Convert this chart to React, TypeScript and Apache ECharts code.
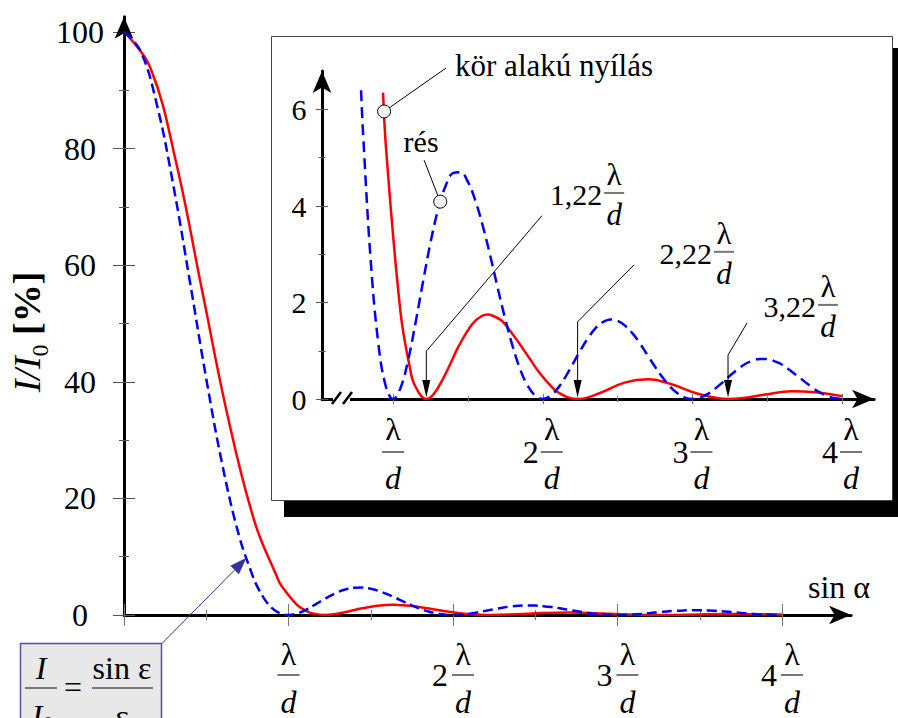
import React, { useEffect, useRef } from 'react';
import * as echarts from 'echarts';

const FONT = 'Liberation Serif, Times New Roman, serif';

// circular aperture (red): [sin α in units of λ/d, I/I0 in %]
const circlePoints: number[][] = [
  [0, 100], [0.159, 93.94], [0.318, 77.48], [0.477, 55.34], [0.637, 33.26], [0.796, 15.81],
  [0.933, 6.35], [0.955, 5.11], [1.05, 1.79], [1.114, 0.62], [1.146, 0.28], [1.222, 0],
  [1.273, 0.11], [1.337, 0.44], [1.401, 0.85], [1.432, 1.06], [1.528, 1.55], [1.592, 1.72],
  [1.635, 1.75], [1.655, 1.74], [1.719, 1.64], [1.751, 1.54], [1.846, 1.14], [1.91, 0.85],
  [1.974, 0.56], [2.069, 0.22], [2.101, 0.14], [2.164, 0.04], [2.233, 0], [2.387, 0.13],
  [2.546, 0.34], [2.706, 0.41], [2.865, 0.3], [3.024, 0.12], [3.183, 0.01], [3.238, 0],
  [3.342, 0.02], [3.501, 0.1], [3.661, 0.16], [3.82, 0.14], [3.979, 0.07], [4.0, 0.06],
];

// slit (blue dashed)
const slitPoints: number[][] = [
  [0, 100], [0.1, 96.75], [0.2, 87.52], [0.3, 73.68], [0.4, 57.29], [0.5, 40.53], [0.6, 25.46],
  [0.7, 13.53], [0.786, 6.4], [0.8, 5.47], [0.85, 2.89], [0.9, 1.19], [0.95, 0.28], [1.0, 0],
  [1.05, 0.23], [1.1, 0.8], [1.15, 1.58], [1.2, 2.43], [1.25, 3.24], [1.3, 3.92], [1.35, 4.41],
  [1.4, 4.68], [1.45, 4.7], [1.5, 4.5], [1.55, 4.11], [1.6, 3.58], [1.65, 2.96], [1.7, 2.29],
  [1.75, 1.65], [1.8, 1.08], [1.85, 0.61], [1.9, 0.27], [1.95, 0.07], [2.0, 0], [2.05, 0.06],
  [2.1, 0.22], [2.15, 0.45], [2.2, 0.72], [2.25, 1.0], [2.3, 1.25], [2.35, 1.46], [2.4, 1.59],
  [2.45, 1.65], [2.5, 1.62], [2.55, 1.52], [2.6, 1.36], [2.65, 1.15], [2.7, 0.91], [2.75, 0.67],
  [2.8, 0.45], [2.85, 0.26], [2.9, 0.12], [2.95, 0.03], [3.0, 0], [3.05, 0.03], [3.1, 0.1],
  [3.15, 0.21], [3.2, 0.34], [3.25, 0.48], [3.3, 0.61], [3.35, 0.72], [3.4, 0.79], [3.45, 0.83],
  [3.5, 0.83], [3.55, 0.78], [3.6, 0.71], [3.65, 0.6], [3.7, 0.48], [3.75, 0.36], [3.8, 0.24],
  [3.85, 0.14], [3.9, 0.06], [3.95, 0.02], [4.0, 0],
];

const insetCircleFrom = 0.933;
const insetSlitFrom = 0.786;
const markerPoints: number[][] = [[0.94, 5.96], [1.315, 4.09]];

const mainXTicks = [0, 1, 2, 3, 4];
const mainXMinor = [0.5, 1.5, 2.5, 3.5];
const mainXLabels = [1, 2, 3, 4];
const mainYTicks = [0, 20, 40, 60, 80, 100];
const mainYMinor = [10, 30, 50, 70, 90];
const insetXTicks = [1, 2, 3, 4];
const insetXMinor = [1.5, 2.5, 3.5];
const insetXLabels = [1, 2, 3, 4];
const insetYTicks = [0, 2, 4, 6];
const insetYMinor = [1, 3, 5];

// minima annotations in the inset (data coordinates)
const minimaNotes = [
  { x: 1.222, bendY: 0.99, from: [1.995, 3.8], coef: '1,22', bar: [2.477, 4.27] },
  { x: 2.233, bendY: 1.6, from: [2.61, 2.78], coef: '2,22', bar: [3.211, 3.05] },
  { x: 3.238, bendY: 0.91, from: [3.365, 1.575], coef: '3,22', bar: [3.906, 1.95] },
];
const circleNote = { text: 'kör alakú nyílás', lineEnd: [1.354, 6.86], textAt: [1.414, 6.92] };
const slitNote = { text: 'rés', lineEnd: [1.207, 4.95], textAt: [1.187, 5.33] };
const formulaTarget = [0.745, 9.8];

const M = { xMin: 0, xMax: 4.42, yMax: 102.6 };
const I = { xMin: 0.525, xMax: 4.214, yMax: 6.8 };

function fracFormatter(v: number) {
  const n = Math.round(v);
  if (n === 1) return '{l|λ}\n{b|}\n{d|d}';
  return '{s1|}{l|λ}\n{c|' + n + '}{b|}\n{s3|}{d|d}';
}
function fracRich(l1: number, l3: number, cw: number) {
  return {
    l: { fontFamily: FONT, fontSize: 32, lineHeight: l1, width: 22, align: 'center', color: '#000' },
    s1: { width: cw, lineHeight: l1 },
    b: { width: 22, height: 2, lineHeight: 4, backgroundColor: '#777' },
    c: { fontFamily: FONT, fontSize: 32, lineHeight: 4, width: cw, align: 'left', color: '#000' },
    s3: { width: cw, lineHeight: l3 },
    d: { fontFamily: FONT, fontSize: 32, fontStyle: 'italic', lineHeight: l3, width: 22, align: 'center', verticalAlign: 'bottom', color: '#000' },
  };
}

function tickAxis(dim: 'x' | 'y', gridIndex: number, min: number, max: number, values: number[], half: number, color: string) {
  return {
    type: 'value', gridIndex, min, max, position: dim === 'x' ? 'bottom' : 'left', offset: -half, z: 3,
    axisLine: { show: false, onZero: false },
    splitLine: { show: false },
    axisLabel: { show: false },
    axisTick: { show: true, inside: false, length: half * 2, customValues: values, lineStyle: { color, width: 1 } },
  };
}

export default function App() {
  const ref = useRef<HTMLDivElement>(null);
  useEffect(() => {
    if (!ref.current) return;
    const chart = echarts.init(ref.current, null, { renderer: 'svg' });
    const arrowLine = { show: true, onZero: false, symbol: ['none', 'arrow'], symbolSize: [14, 22], lineStyle: { color: '#000', width: 3 } };
    const option: any = {
      animation: false,
      backgroundColor: '#fff',
      textStyle: { fontFamily: FONT },
      grid: [
        { left: 124, top: 16.8, width: 727.1, height: 598.2, containLabel: false, outerBoundsMode: 'none' },
        { left: 322, top: 70.9, width: 552.1, height: 328.1, containLabel: false, outerBoundsMode: 'none' },
      ],
      xAxis: [
        {
          type: 'value', gridIndex: 0, min: M.xMin, max: M.xMax, position: 'bottom', z: 3,
          axisLine: arrowLine, axisTick: { show: false }, splitLine: { show: false },
          axisLabel: { show: true, customValues: mainXLabels, margin: 20, formatter: fracFormatter, rich: fracRich(38, 41, 20), fontFamily: FONT, fontSize: 32, color: '#000' },
        },
        tickAxis('x', 0, M.xMin, M.xMax, mainXTicks, 11, '#777'),
        tickAxis('x', 0, M.xMin, M.xMax, mainXMinor, 5, '#777'),
        {
          type: 'value', gridIndex: 1, min: I.xMin, max: I.xMax, position: 'bottom', z: 3,
          axisLine: arrowLine, axisTick: { show: false }, splitLine: { show: false },
          axisLabel: { show: true, customValues: insetXLabels, margin: 9, formatter: fracFormatter, rich: fracRich(42, 40, 18), fontFamily: FONT, fontSize: 32, color: '#000' },
        },
        tickAxis('x', 1, I.xMin, I.xMax, insetXTicks, 5, '#777'),
        tickAxis('x', 1, I.xMin, I.xMax, insetXMinor, 3, '#777'),
      ],
      yAxis: [
        {
          type: 'value', gridIndex: 0, min: 0, max: M.yMax, position: 'left', z: 3,
          axisLine: arrowLine, axisTick: { show: false }, splitLine: { show: false },
          axisLabel: { show: true, customValues: mainYTicks, margin: 44, align: 'center', fontFamily: FONT, fontSize: 32, color: '#000' },
        },
        tickAxis('y', 0, 0, M.yMax, mainYTicks, 11, '#555'),
        tickAxis('y', 0, 0, M.yMax, mainYMinor, 5, '#555'),
        {
          type: 'value', gridIndex: 1, min: 0, max: I.yMax, position: 'left', z: 3,
          axisLine: arrowLine, axisTick: { show: false }, splitLine: { show: false },
          axisLabel: { show: true, customValues: insetYTicks, margin: 23, align: 'center', fontFamily: FONT, fontSize: 30, color: '#000' },
        },
        tickAxis('y', 1, 0, I.yMax, insetYTicks, 6, '#555'),
        tickAxis('y', 1, 0, I.yMax, insetYMinor, 3.5, '#555'),
      ],
      series: [
        { type: 'line', xAxisIndex: 0, yAxisIndex: 0, data: circlePoints, symbol: 'none', smooth: 0.4, z: 4, lineStyle: { color: '#ff0000', width: 2.5 } },
        { type: 'line', xAxisIndex: 0, yAxisIndex: 0, data: slitPoints, symbol: 'none', smooth: 0.4, z: 4, lineStyle: { color: '#0000ff', width: 2.5, type: [10, 5] } },
        { type: 'line', xAxisIndex: 3, yAxisIndex: 3, data: circlePoints.filter((p) => p[0] >= insetCircleFrom), symbol: 'none', smooth: 0.4, z: 4, lineStyle: { color: '#ff0000', width: 2.5 } },
        { type: 'line', xAxisIndex: 3, yAxisIndex: 3, data: slitPoints.filter((p) => p[0] >= insetSlitFrom), symbol: 'none', smooth: 0.4, z: 4, lineStyle: { color: '#0000ff', width: 2.5, type: [11, 6] } },
        { type: 'scatter', xAxisIndex: 3, yAxisIndex: 3, data: markerPoints, symbol: 'circle', symbolSize: 13, z: 8, itemStyle: { color: '#f2f2f2', borderColor: '#000', borderWidth: 1, opacity: 1 } },
      ],
    };
    chart.setOption(option);

    const ip = (p: number[]) => chart.convertToPixel({ xAxisIndex: 3, yAxisIndex: 3 } as any, p) as number[];
    const mp = (p: number[]) => chart.convertToPixel({ xAxisIndex: 0, yAxisIndex: 0 } as any, p) as number[];
    const txt = (x: number, y: number, text: string, size: number, extra: any = {}, z = 9) => ({
      type: 'text', x, y, z, silent: true,
      style: { text, fill: '#000', fontFamily: FONT, fontSize: size, align: 'center', verticalAlign: 'middle', ...extra },
    });
    const g: any[] = [];
    // inset frame with shadow
    g.push({ type: 'rect', z: 0, shape: { x: 284, y: 48, width: 620, height: 469 }, style: { fill: '#000' } });
    g.push({ type: 'rect', z: 1, shape: { x: 271.5, y: 36.5, width: 621, height: 464 }, style: { fill: '#fff', stroke: '#444', lineWidth: 1 } });

    // axis break on inset x axis
    const p0 = ip([I.xMin, 0]);
    g.push({ type: 'rect', z: 6, shape: { x: p0[0] + 11, y: p0[1] - 3, width: 17, height: 6 }, style: { fill: '#fff' } });
    g.push({ type: 'line', z: 7, shape: { x1: p0[0] + 10, y1: p0[1] + 5, x2: p0[0] + 19, y2: p0[1] - 7 }, style: { stroke: '#000', lineWidth: 2.5 } });
    g.push({ type: 'line', z: 7, shape: { x1: p0[0] + 21, y1: p0[1] + 5, x2: p0[0] + 30, y2: p0[1] - 7 }, style: { stroke: '#000', lineWidth: 2.5 } });

    // minima arrows and labels
    minimaNotes.forEach((n) => {
      const a = ip(n.from);
      const b = ip([n.x, n.bendY]);
      const t = ip([n.x, 0]);
      g.push({ type: 'polyline', z: 7, shape: { points: [a, b, [t[0], t[1] - 18]] }, style: { stroke: '#000', lineWidth: 1, fill: 'none' } });
      g.push({ type: 'polygon', z: 7, shape: { points: [[t[0], t[1] - 1.5], [t[0] - 4, t[1] - 19], [t[0] + 4, t[1] - 19]] }, style: { fill: '#000' } });
      const c = ip(n.bar);
      g.push({ type: 'line', z: 7, shape: { x1: c[0] - 10, y1: c[1], x2: c[0] + 10, y2: c[1] }, style: { stroke: '#777', lineWidth: 2 } });
      g.push(txt(c[0], c[1] - 18, 'λ', 31));
      g.push(txt(c[0], c[1] + 22, 'd', 31, { fontStyle: 'italic' }));
      g.push(txt(c[0] - 12, c[1] + 2, n.coef, 30, { align: 'right' }));
    });

    // curve name notes
    const m0 = ip(markerPoints[0]);
    const e0 = ip(circleNote.lineEnd);
    g.push({ type: 'line', z: 7, shape: { x1: m0[0], y1: m0[1], x2: e0[0], y2: e0[1] }, style: { stroke: '#000', lineWidth: 1 } });
    const t0 = ip(circleNote.textAt);
    g.push(txt(t0[0], t0[1], circleNote.text, 31, { align: 'left' }));
    const m1 = ip(markerPoints[1]);
    const e1 = ip(slitNote.lineEnd);
    g.push({ type: 'line', z: 7, shape: { x1: m1[0], y1: m1[1], x2: e1[0], y2: e1[1] }, style: { stroke: '#000', lineWidth: 1 } });
    const t1 = ip(slitNote.textAt);
    g.push(txt(t1[0], t1[1], slitNote.text, 30));

    // axis titles
    g.push({
      type: 'text', x: 27, y: 332, rotation: Math.PI / 2, z: 9, silent: true,
      style: {
        text: '{i|I/I}{s|0}{b| [%]}', align: 'center', verticalAlign: 'middle', fill: '#000',
        rich: {
          i: { fontFamily: FONT, fontSize: 38, fontStyle: 'italic', fill: '#000' },
          s: { fontFamily: FONT, fontSize: 24, lineHeight: 50, verticalAlign: 'bottom', fill: '#000' },
          b: { fontFamily: FONT, fontSize: 38, fontWeight: 'bold', fill: '#000' },
        },
      },
    });
    g.push(txt(839, 587, 'sin α', 32));

    // formula box
    g.push({ type: 'rect', z: 9, shape: { x: 20.5, y: 643.5, width: 141, height: 90 }, style: { fill: '#e8e8e8', stroke: '#5050a8', lineWidth: 1.5 } });
    g.push(txt(41, 668, 'I', 32, { fontStyle: 'italic' }, 10));
    g.push({ type: 'line', z: 10, shape: { x1: 25, y1: 688, x2: 57, y2: 688 }, style: { stroke: '#555', lineWidth: 1.5 } });
    g.push(txt(37, 716, 'I', 32, { fontStyle: 'italic' }, 10));
    g.push(txt(48, 724, '0', 20, {}, 10));
    g.push(txt(73, 687, '=', 32, {}, 10));
    g.push(txt(122, 668, 'sin ε', 32, {}, 10));
    g.push({ type: 'line', z: 10, shape: { x1: 92, y1: 688, x2: 153, y2: 688 }, style: { stroke: '#555', lineWidth: 1.5 } });
    g.push(txt(122, 716, 'ε', 32, {}, 10));

    // formula arrow
    const tip = mp(formulaTarget);
    const sx = 162, sy = 643.5;
    const dx = tip[0] - sx, dy = tip[1] - sy;
    const len = Math.sqrt(dx * dx + dy * dy);
    const ux = dx / len, uy = dy / len;
    const bx = tip[0] - ux * 17, by = tip[1] - uy * 17;
    g.push({ type: 'line', z: 10, shape: { x1: sx, y1: sy, x2: bx, y2: by }, style: { stroke: '#333399', lineWidth: 1 } });
    g.push({ type: 'polygon', z: 10, shape: { points: [[tip[0], tip[1]], [bx - uy * 6, by + ux * 6], [bx + uy * 6, by - ux * 6]] }, style: { fill: '#333399' } });

    chart.setOption({ graphic: g });
    return () => chart.dispose();
  }, []);
  return <div ref={ref} style={{ position: 'absolute', left: 0, top: 0, width: 898, height: 718 }} />;
}
